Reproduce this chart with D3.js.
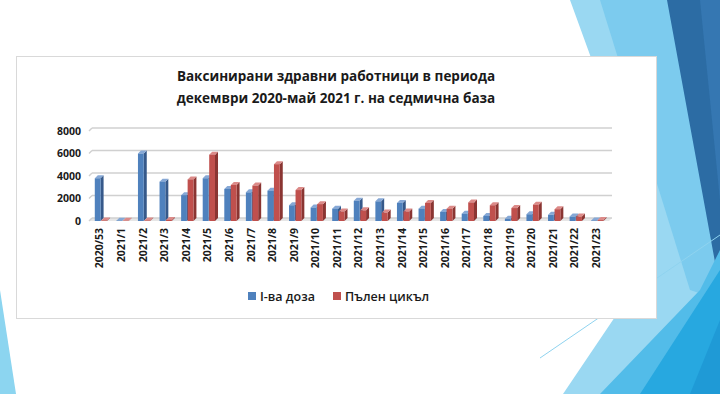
<!DOCTYPE html>
<html>
<head>
<meta charset="utf-8">
<script src="https://cdn.jsdelivr.net/npm/d3@7"></script>
<style>
  body { margin: 0; background: #fff; }
  svg { display: block; }
  text { font-family: 'Open Sans', sans-serif; }
</style>
</head>
<body>
<div class="canvas"></div>
<script>
const weeks = ['2020/53', '2021/1', '2021/2', '2021/3', '2021/4', '2021/5', '2021/6', '2021/7',
  '2021/8', '2021/9', '2021/10', '2021/11', '2021/12', '2021/13', '2021/14', '2021/15',
  '2021/16', '2021/17', '2021/18', '2021/19', '2021/20', '2021/21', '2021/22', '2021/23'];
const firstDose = [3800, 30, 6000, 3500, 2300, 3800, 2850, 2550, 2700, 1400, 1200, 1100,
  1800, 1750, 1600, 1100, 800, 650, 450, 200, 600, 550, 400, 50];
const fullCycle = [50, 20, 50, 100, 3700, 5900, 3200, 3150, 5050, 2750, 1500, 850,
  950, 750, 850, 1600, 1100, 1650, 1400, 1150, 1450, 1050, 400, 80];
const seriesNames = ['I-ва доза', 'Пълен цикъл'];
const yTicks = [0, 2000, 4000, 6000, 8000];
const titleLines = ['Ваксинирани здравни работници в периода', 'декември 2020-май 2021 г. на седмична база'];

const svgWidth = 720;
const svgHeight = 394;

const svg = d3.select('.canvas')
  .append('svg')
    .attr('width', svgWidth)
    .attr('height', svgHeight);

// slide decoration (background shapes)
const deco = [
  { fill: '#9ad8f2', pts: [[570,0],[668,0],[720,200],[720,394],[563,394],[650,265],[610,110]] },
  { fill: '#7ccbee', pts: [[600,0],[668,0],[720,250],[720,300],[690,290]] },
  { fill: '#2c6ca4', pts: [[667,0],[720,0],[720,290],[717,273]] },
  { fill: '#3577b2', pts: [[700,0],[720,0],[720,200]] },
  { fill: '#52bce9', pts: [[600,394],[700,290],[720,250],[720,394]] },
  { fill: '#27a8e0', pts: [[640,394],[720,270],[720,394]] },
  { fill: '#1f9ad6', pts: [[690,394],[720,320],[720,394]] },
  { fill: '#8cd5f0', pts: [[0,290],[16,394],[0,394]] }
];
svg.selectAll('polygon.deco')
  .data(deco)
  .enter().append('polygon')
    .attr('class', 'deco')
    .attr('points', d => d.pts.map(p => p.join(',')).join(' '))
    .attr('fill', d => d.fill);
svg.append('line')
  .attr('x1', 540).attr('y1', 358).attr('x2', 720).attr('y2', 235)
  .attr('stroke', '#8fd3ef').attr('stroke-width', 1);

// chart panel
svg.append('rect')
  .attr('x', 16.5).attr('y', 56.5)
  .attr('width', 640).attr('height', 262)
  .attr('fill', '#fff')
  .attr('stroke', '#d9d9d9');

// title
svg.append('text')
  .attr('x', 336).attr('y', 81)
  .attr('text-anchor', 'middle')
  .attr('font-size', 13.5)
  .attr('font-weight', 700)
  .attr('fill', '#1a1a1a')
  .selectAll('tspan')
  .data(titleLines)
  .enter().append('tspan')
    .attr('x', 336)
    .attr('dy', (d, i) => i ? 22 : 0)
    .text(d => d);

const plotLeft = 89, plotRight = 607;
const dx = 3, dy = 3;

const x = d3.scaleBand().domain(weeks).range([plotLeft, plotRight]);
const y = d3.scaleLinear().domain([0, 8000]).range([221, 131]);

const g = svg.append('g');

// floor
g.append('polygon')
  .attr('points', [[plotLeft, y(0)], [plotRight + 2, y(0)], [plotRight + 2 + dx, y(0) - dy], [plotLeft + dx, y(0) - dy]].map(p => p.join(',')).join(' '))
  .attr('fill', '#e6e6e6');

// gridlines (side wall + back wall)
const grid = g.selectAll('g.grid')
  .data(yTicks)
  .enter().append('g').attr('class', 'grid');
grid.append('line')
  .attr('x1', plotLeft).attr('y1', d => y(d))
  .attr('x2', plotLeft + dx).attr('y2', d => y(d) - dy)
  .attr('stroke', '#d0d0d0').attr('stroke-width', 1.5);
grid.append('line')
  .attr('x1', plotLeft + dx).attr('y1', d => y(d) - dy)
  .attr('x2', plotRight + 5).attr('y2', d => y(d) - dy)
  .attr('stroke', '#d0d0d0').attr('stroke-width', 1.5);

// y axis
const yAxisGroup = svg.append('g')
  .attr('transform', `translate(${plotLeft - 8},0)`)
  .call(d3.axisLeft(y).tickValues(yTicks).tickFormat(d3.format('d')).tickSize(0).tickPadding(0));
yAxisGroup.select('.domain').remove();
yAxisGroup.selectAll('text')
  .attr('font-family', "'Open Sans', sans-serif")
  .attr('font-size', 10.5)
  .attr('font-weight', 700)
  .attr('fill', '#1a1a1a');

// x axis labels
const xAxisGroup = svg.append('g')
  .attr('transform', 'translate(0,228)')
  .call(d3.axisBottom(x).tickSize(0).tickPadding(0));
xAxisGroup.select('.domain').remove();
xAxisGroup.selectAll('text')
  .attr('font-family', "'Open Sans', sans-serif")
  .attr('font-size', 10.5)
  .attr('font-weight', 700)
  .attr('fill', '#1a1a1a')
  .attr('transform', 'rotate(-90)')
  .attr('text-anchor', 'end')
  .attr('dy', '0.35em')
  .attr('y', 0)
  .attr('x', 0);

// bars
const barW = 5.8;
const series = [
  { values: firstDose, front: '#4f81bd', side: '#36598a', top: '#86a8d6', offset: -5 },
  { values: fullCycle, front: '#c0504d', side: '#8a3532', top: '#dc8a88', offset: 1.5 }
];

series.forEach(s => {
  const bars = g.selectAll(null)
    .data(weeks.map((w, i) => ({ week: w, value: s.values[i] })))
    .enter().append('g');
  const bx = d => x(d.week) + x.bandwidth() / 2 + s.offset;
  bars.append('polygon')
    .attr('points', d => {
      const x0 = bx(d) + barW, yt = y(d.value), yb = y(0);
      return [[x0, yt], [x0 + dx, yt - dy], [x0 + dx, yb - dy], [x0, yb]].map(p => p.join(',')).join(' ');
    })
    .attr('fill', s.side);
  bars.append('polygon')
    .attr('points', d => {
      const x0 = bx(d), yt = y(d.value);
      return [[x0, yt], [x0 + dx, yt - dy], [x0 + barW + dx, yt - dy], [x0 + barW, yt]].map(p => p.join(',')).join(' ');
    })
    .attr('fill', s.top);
  bars.append('rect')
    .attr('x', bx)
    .attr('y', d => y(d.value))
    .attr('width', barW)
    .attr('height', d => y(0) - y(d.value))
    .attr('fill', s.front);
});

// legend
const legend = svg.append('g').attr('transform', 'translate(248,292)');
const legendX = [0, 85];
const legendItems = legend.selectAll('g')
  .data(seriesNames)
  .enter().append('g')
    .attr('transform', (d, i) => `translate(${legendX[i]},0)`);
legendItems.append('rect')
  .attr('width', 8).attr('height', 8)
  .attr('fill', (d, i) => series[i].front);
legendItems.append('text')
  .attr('x', 12).attr('y', 8.5)
  .attr('font-size', 12.5)
  .attr('font-weight', 600)
  .attr('fill', '#1a1a1a')
  .text(d => d);
</script>
</body>
</html>
